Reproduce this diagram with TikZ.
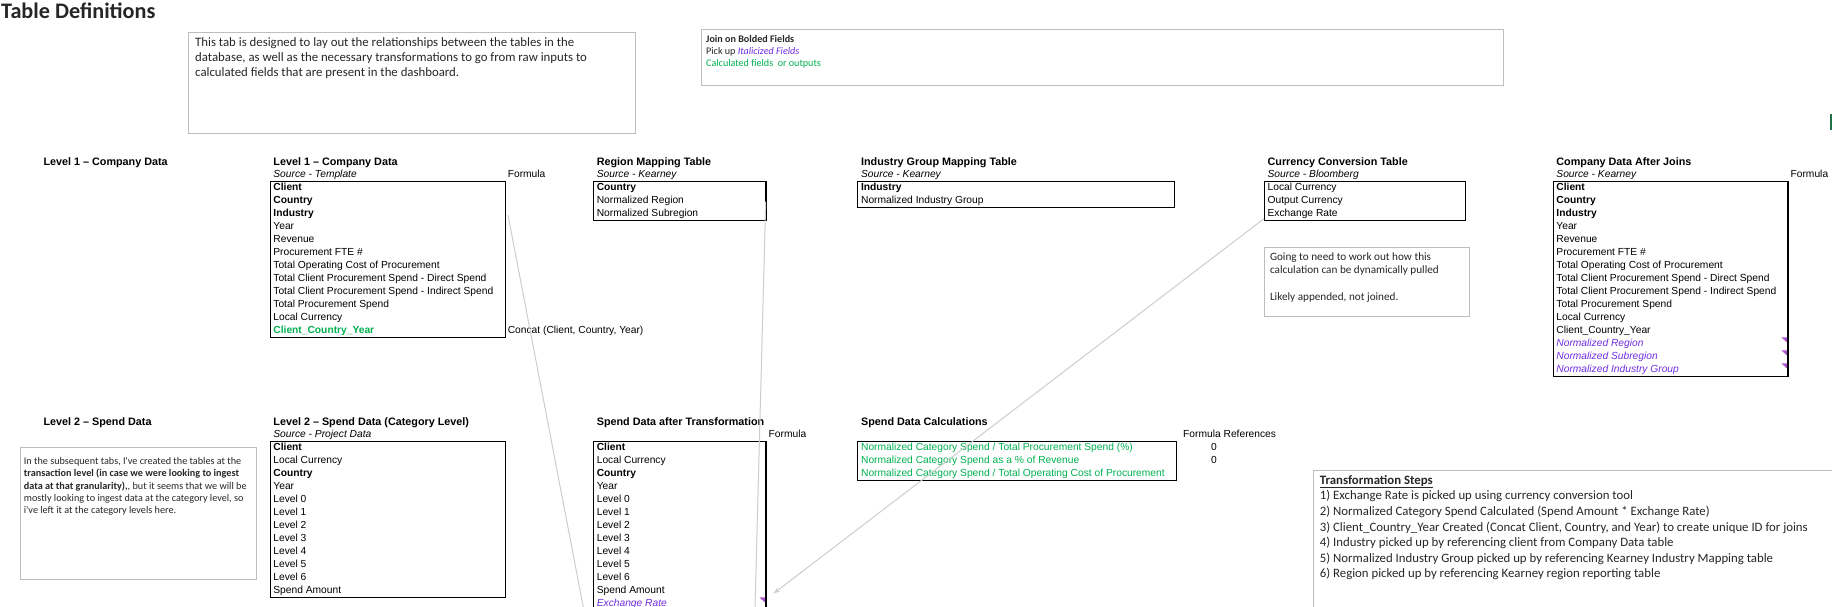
\documentclass[tikz,border=0pt]{standalone}
\usepackage{fontspec}
\setmainfont{Liberation Sans}
\newfontfamily\calfont{Carlito}
\usetikzlibrary{arrows.meta}
\definecolor{xgreen}{RGB}{0,176,80}
\definecolor{xpurple}{RGB}{112,45,225}
\definecolor{xmark}{RGB}{175,85,205}
\definecolor{boxgray}{RGB}{190,190,190}
\definecolor{linegray}{RGB}{205,205,205}
\definecolor{xlgreen}{RGB}{33,115,70}
\newcommand\tabfont{\fontsize{10.25}{13}\selectfont}
\newcommand\hdrfont{\fontsize{10.8}{13}\selectfont\bfseries}
\newcommand\calM{\calfont\fontsize{12.8}{15.6}\selectfont}
\newcommand\calN{\calfont\fontsize{11.2}{13.3}\selectfont}
\newcommand\calS{\calfont\fontsize{10.2}{12.4}\selectfont}
\newcommand\calL{\calfont\fontsize{10.1}{12}\selectfont}
\newcommand\titlefont{\calfont\fontsize{22.2}{24}\selectfont\bfseries}
\begin{document}
\begin{tikzpicture}[x=1pt,y=-1pt,
  cell/.style={anchor=base west, inner sep=0pt, font=\tabfont},
  hdr/.style={anchor=base west, inner sep=0pt, font=\hdrfont},
  src/.style={anchor=base west, inner sep=0pt, font=\tabfont\itshape},
  tbl/.style={draw=black, line width=1.1pt, anchor=north west, inner sep=0pt},
  notebox/.style={draw=boxgray, line width=1pt, anchor=north west, inner sep=0pt},
  calm/.style={anchor=base west, inner sep=0pt, font=\calM, text=black!85},
  caln/.style={anchor=base west, inner sep=0pt, font=\calN, text=black!85},
  cals/.style={anchor=base west, inner sep=0pt, font=\calS, text=black!85},
  call/.style={anchor=base west, inner sep=0pt, font=\calL, text=black!85},
  conn/.style={draw=linegray, line width=1pt},
  cmark/.style={fill=xmark}
]
\useasboundingbox (0,0) rectangle (1832,607);
\clip (0,0) rectangle (1832,607);

% title
\node[anchor=base west, inner sep=0pt, font=\titlefont, text=black!85] (title) at (1.0,18.6) {Table Definitions};

% description box
\node[notebox, minimum width=446.4pt, minimum height=100.4pt] (desc) at (188.4,32.3) {};
\node[calm] (desc1) at (195,46.8) {This tab is designed to lay out the relationships between the tables in the};
\node[calm] (desc2) at (195,61.6) {database, as well as the necessary transformations to go from raw inputs to};
\node[calm] (desc3) at (195,76.4) {calculated fields that are present in the dashboard.};

% legend box
\node[notebox, minimum width=802.2pt, minimum height=56pt] (legend) at (700.6,29.3) {};
\node[call] (leg1) at (706,42.3) {\bfseries Join on Bolded Fields};
\node[call] (leg2) at (706,54.3) {Pick up {\color{xpurple}\itshape Italicized Fields}};
\node[call] (leg3) at (706,66.3) {\color{xgreen}Calculated fields\ \ or outputs};

% green mark
\fill[xlgreen] (1830,114) rectangle (1832,130);

% ---------- Row 1 ----------
\node[hdr] (lab1) at (43.3,165.1) {Level 1 – Company Data};

% Level 1 table
\node[hdr] (L1h) at (273.2,165.1) {Level 1 – Company Data};
\node[src] (L1s) at (273.2,177.9) {\underline{Source - Template}};
\node[cell] (L1f) at (507.6,177.9) {Formula};
\node[tbl, minimum width=234.9pt, minimum height=156pt] (L1) at (269.6,180.7) {};
\foreach \t [count=\i] in {{\bfseries Client},{\bfseries Country},{\bfseries Industry},Year,Revenue,Procurement FTE \#,Total Operating Cost of Procurement,Total Client Procurement Spend - Direct Spend,Total Client Procurement Spend - Indirect Spend,Total Procurement Spend,Local Currency,{\color{xgreen}\bfseries Client\_Country\_Year}}
  {\node[cell] (L1r\i) at (273.2,{177.9+13*\i}) {\t};}
\node[cell] (L1c) at (507.6,333.9) {Concat (Client, Country, Year)};

% Region mapping
\node[hdr] (RMh) at (596.6,165.1) {Region Mapping Table};
\node[src] (RMs) at (596.6,177.9) {\underline{Source - Kearney}};
\node[tbl, minimum width=172.4pt, minimum height=39pt] (RM) at (593,180.7) {};
\foreach \t [count=\i] in {{\bfseries Country},Normalized Region,Normalized Subregion}
  {\node[cell] (RMr\i) at (596.6,{177.9+13*\i}) {\t};}

% Industry group mapping
\node[hdr] (IGh) at (860.9,165.1) {Industry Group Mapping Table};
\node[src] (IGs) at (860.9,177.9) {\underline{Source - Kearney}};
\node[tbl, minimum width=316.7pt, minimum height=26pt] (IG) at (857.3,180.7) {};
\foreach \t [count=\i] in {{\bfseries Industry},Normalized Industry Group}
  {\node[cell] (IGr\i) at (860.9,{177.9+13*\i}) {\t};}

% Currency conversion
\node[hdr] (CCh) at (1267.4,165.1) {Currency Conversion Table};
\node[src] (CCs) at (1267.4,177.9) {\underline{Source - Bloomberg}};
\node[tbl, minimum width=200.8pt, minimum height=39pt] (CC) at (1263.8,180.7) {};
\foreach \t [count=\i] in {Local Currency,Output Currency,Exchange Rate}
  {\node[cell] (CCr\i) at (1267.4,{177.9+13*\i}) {\t};}

% currency note
\node[notebox, minimum width=205pt, minimum height=69.3pt] (cnote) at (1263.8,246.7) {};
\node[caln] (cn1) at (1269.8,260.3) {Going to need to work out how this};
\node[caln] (cn2) at (1269.8,273.8) {calculation can be dynamically pulled};
\node[caln] (cn3) at (1269.8,300.6) {Likely appended, not joined.};

% Company data after joins
\node[hdr] (CJh) at (1556.2,165.1) {Company Data After Joins};
\node[src] (CJs) at (1556.2,177.9) {\underline{Source - Kearney}};
\node[cell] (CJf) at (1790.4,177.9) {Formula};
\node[tbl, minimum width=234.8pt, minimum height=195pt] (CJ) at (1552.6,180.7) {};
\foreach \t [count=\i] in {{\bfseries Client},{\bfseries Country},{\bfseries Industry},Year,Revenue,Procurement FTE \#,Total Operating Cost of Procurement,Total Client Procurement Spend - Direct Spend,Total Client Procurement Spend - Indirect Spend,Total Procurement Spend,Local Currency,Client\_Country\_Year,{\color{xpurple}\itshape Normalized Region},{\color{xpurple}\itshape Normalized Subregion},{\color{xpurple}\itshape Normalized Industry Group}}
  {\node[cell] (CJr\i) at (1556.2,{177.9+13*\i}) {\t};}
\foreach \k in {12,13,14}
  {\fill[cmark] (1786.8,{181.3+13*\k}) -- (1781.3,{181.3+13*\k}) -- (1786.8,{186.3+13*\k}) -- cycle;}

% ---------- Row 2 ----------
\node[hdr] (lab2) at (43.3,425.1) {Level 2 – Spend Data};

% Level 2 note
\node[notebox, minimum width=235.3pt, minimum height=131.7pt] (l2note) at (20.3,447) {};
\node[cals] (n1) at (23.7,464.3) {In the subsequent tabs, I've created the tables at the};
\node[cals] (n2) at (23.7,476.7) {\bfseries transaction level (in case we were looking to ingest};
\node[cals] (n3) at (23.7,489.1) {\textbf{data at that granularity),}, but it seems that we will be};
\node[cals] (n4) at (23.7,501.5) {mostly looking to ingest data at the category level, so};
\node[cals] (n5) at (23.7,513.9) {i've left it at the category levels here.};

% Level 2 table
\node[hdr] (L2h) at (273.2,425.1) {Level 2 – Spend Data (Category Level)};
\node[src] (L2s) at (273.2,437.9) {\underline{Source - Project Data}};
\node[tbl, minimum width=234.9pt, minimum height=156pt] (L2) at (269.6,440.7) {};
\foreach \t [count=\i] in {{\bfseries Client},Local Currency,{\bfseries Country},Year,Level 0,Level 1,Level 2,Level 3,Level 4,Level 5,Level 6,Spend Amount}
  {\node[cell] (L2r\i) at (273.2,{437.9+13*\i}) {\t};}

% Spend data after transformation
\node[hdr] (STh) at (596.6,425.1) {Spend Data after Transformation};
\node[cell] (STf) at (768.5,437.9) {Formula};
\node[tbl, minimum width=172.4pt, minimum height=220pt] (ST) at (593,440.7) {};
\foreach \t [count=\i] in {{\bfseries Client},Local Currency,{\bfseries Country},Year,Level 0,Level 1,Level 2,Level 3,Level 4,Level 5,Level 6,Spend Amount,{\color{xpurple}\itshape Exchange Rate}}
  {\node[cell] (STr\i) at (596.6,{437.9+13*\i}) {\t};}
\fill[cmark] (764.8,597.3) -- (759.3,597.3) -- (764.8,602.3) -- cycle;

% Spend data calculations
\node[hdr] (SCh) at (860.9,425.1) {Spend Data Calculations};
\node[cell] (SCf) at (1183,437.9) {Formula References};
\node[tbl, minimum width=318.7pt, minimum height=39pt] (SC) at (857.3,440.7) {};
\foreach \t [count=\i] in {Normalized Category Spend / Total Procurement Spend (\%),Normalized Category Spend as a \% of Revenue,Normalized Category Spend / Total Operating Cost of Procurement}
  {\node[cell, text=xgreen] (SCr\i) at (860.9,{437.9+13*\i}) {\t};}
\node[cell, anchor=base] (SCv1) at (1214,450.9) {0};
\node[cell, anchor=base] (SCv2) at (1214,463.9) {0};

% Transformation steps
\node[notebox, minimum width=540pt, minimum height=180pt] (steps) at (1312.6,470) {};
\foreach \t [count=\i] in {{\bfseries\underline{Transformation Steps}},1) Exchange Rate is picked up using currency conversion tool,2) Normalized Category Spend Calculated (Spend Amount * Exchange Rate),{3) Client\_Country\_Year Created (Concat Client, Country, and Year) to create unique ID for joins},4) Industry picked up by referencing client from Company Data table,5) Normalized Industry Group picked up by referencing Kearney Industry Mapping table,6) Region picked up by referencing Kearney region reporting table}
  {\node[calm] (ts\i) at (1319.7,{468.6+15.6*\i}) {\t};}

% ---------- connectors ----------
\coordinate (c1a) at (508,215);
\coordinate (c1b) at (591.5,650);
\draw[conn] (c1a) -- (c1b);
\coordinate (c2a) at (765.7,201.7);
\coordinate (c2b) at (753.9,650);
\draw[conn] (c2a) -- (c2b);
\coordinate (c3b) at (773.5,593.5);
\draw[conn, -{Stealth[length=7pt,width=5pt]}] ([yshift=2pt]CC.south west) -- (c3b);
\end{tikzpicture}
\end{document}
